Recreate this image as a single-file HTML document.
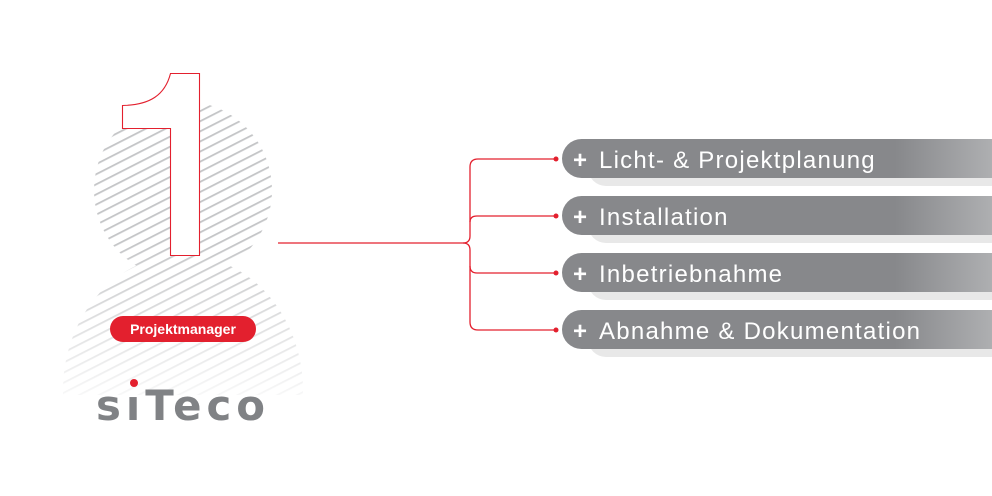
<!DOCTYPE html>
<html><head><meta charset="utf-8"><style>
html,body{margin:0;padding:0;background:#fff;}
body{width:992px;height:496px;position:relative;overflow:hidden;font-family:"Liberation Sans",sans-serif;}
</style></head><body>
<svg width="992" height="496" viewBox="0 0 992 496" xmlns="http://www.w3.org/2000/svg" style="position:absolute;left:0;top:0">
<defs>
<pattern id="hatch" patternUnits="userSpaceOnUse" width="9" height="9" patternTransform="rotate(-27)">
<rect x="0" y="0" width="9" height="1.8" fill="#c4c5c7"/>
</pattern>
<clipPath id="fig">
<circle cx="183" cy="190" r="89"/>
<ellipse cx="183" cy="390" rx="120" ry="135"/>
</clipPath>
<linearGradient id="fade" x1="0" y1="0" x2="0" y2="1">
<stop offset="0" stop-color="#fff"/>
<stop offset="0.5" stop-color="#fff"/>
<stop offset="1" stop-color="#222"/>
</linearGradient>
<mask id="fm"><rect x="0" y="90" width="330" height="305" fill="url(#fade)"/></mask>
<linearGradient id="bar" x1="0" y1="0" x2="1" y2="0">
<stop offset="0" stop-color="#87888b"/>
<stop offset="0.74" stop-color="#87888b"/>
<stop offset="1" stop-color="#b6b7b9"/>
</linearGradient>
</defs>
<g clip-path="url(#fig)" mask="url(#fm)">
<rect x="40" y="90" width="290" height="310" fill="url(#hatch)"/>
</g>
<path d="M170.5 73.5 H199.5 V255.5 H170.5 V128.5 H122.5 V105.5 C150 105 165 95 170.5 73.5 Z" fill="#fff" stroke="#e3202e" stroke-width="1.1"/>
<g fill="none" stroke="#e3202e" stroke-width="1.3">
<path d="M278 243 H463 Q470 243 470 236 V167 Q470 159 478 159 H556"/>
<path d="M470 222 Q470 216 477 216 H556"/>
<path d="M463 243 Q470 243 470 250 V266 Q470 273 477 273 H556"/>
<path d="M470 266 V322 Q470 330 478 330 H556"/>
</g>
<g fill="#e3202e">
<circle cx="556" cy="159" r="2.5"/><circle cx="556" cy="216" r="2.5"/>
<circle cx="556" cy="273" r="2.5"/><circle cx="556" cy="330" r="2.5"/>
</g>
<g>
<rect x="588" y="150" width="420" height="36" rx="18" fill="#e8e8e8"/>
<rect x="562" y="139" width="450" height="39" rx="19.5" fill="url(#bar)"/>
<rect x="588" y="207" width="420" height="36" rx="18" fill="#e8e8e8"/>
<rect x="562" y="196" width="450" height="39" rx="19.5" fill="url(#bar)"/>
<rect x="588" y="264" width="420" height="36" rx="18" fill="#e8e8e8"/>
<rect x="562" y="253" width="450" height="39" rx="19.5" fill="url(#bar)"/>
<rect x="588" y="321" width="420" height="36" rx="18" fill="#e8e8e8"/>
<rect x="562" y="310" width="450" height="39" rx="19.5" fill="url(#bar)"/>
</g>
<g font-family="Liberation Sans, sans-serif" fill="#fff" font-size="24">
<text x="573" y="168" font-weight="bold">+</text><text x="599" y="168" letter-spacing="1.25">Licht- &amp; Projektplanung</text>
<text x="573" y="225" font-weight="bold">+</text><text x="599" y="225" letter-spacing="1.25">Installation</text>
<text x="573" y="282" font-weight="bold">+</text><text x="599" y="282" letter-spacing="1.25">Inbetriebnahme</text>
<text x="573" y="339" font-weight="bold">+</text><text x="599" y="339" letter-spacing="1.25">Abnahme &amp; Dokumentation</text>
</g>
<rect x="110" y="316" width="146" height="26" rx="13" fill="#e3202e"/>
<text x="183" y="334" text-anchor="middle" font-family="Liberation Sans, sans-serif" font-weight="bold" font-size="14" fill="#fff">Projektmanager</text>
<text x="96" y="420" font-family="DejaVu Sans, Liberation Sans, sans-serif" font-weight="bold" font-size="42" fill="#808285" letter-spacing="5" textLength="174" lengthAdjust="spacingAndGlyphs">sıTeco</text>
<circle cx="134" cy="383" r="4" fill="#e3202e"/>
</svg>
</body></html>
